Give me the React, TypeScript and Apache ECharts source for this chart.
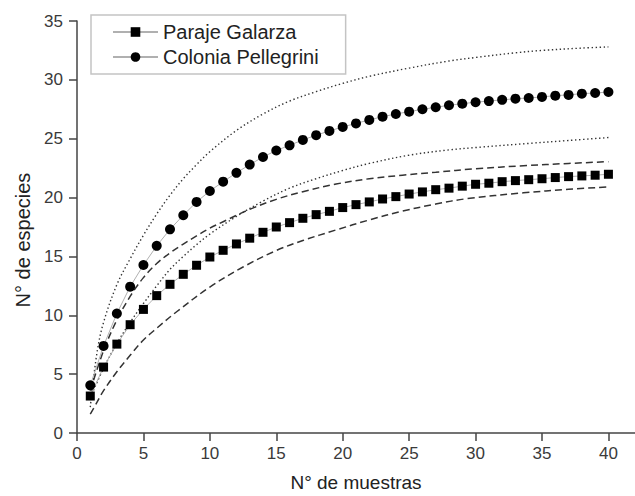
import React, { useEffect, useRef } from "react";
import * as echarts from "echarts";

const samples = Array.from({ length: 40 }, (_, i) => i + 1);

const galarzaValues = [
  3.14, 5.6, 7.55, 9.2, 10.5, 11.67, 12.63, 13.48, 14.25, 14.95,
  15.52, 16.06, 16.55, 17.05, 17.5, 17.87, 18.24, 18.55, 18.83, 19.15,
  19.4, 19.63, 19.88, 20.08, 20.3, 20.48, 20.67, 20.8, 20.97, 21.13,
  21.22, 21.35, 21.44, 21.52, 21.6, 21.7, 21.78, 21.84, 21.9, 21.98,
];

const pellegriniValues = [
  4.05, 7.4, 10.15, 12.43, 14.27, 15.9, 17.3, 18.5, 19.63, 20.56,
  21.35, 22.1, 22.8, 23.45, 24.0, 24.44, 24.9, 25.3, 25.66, 26.0,
  26.3, 26.6, 26.87, 27.1, 27.3, 27.5, 27.67, 27.84, 27.98, 28.1,
  28.2, 28.3, 28.4, 28.46, 28.55, 28.66, 28.72, 28.83, 28.88, 28.97,
];

const pellegriniUpperX = [1, 1.5, 2, 3, 4, 5, 6, 7, 8, 9, 10, 12, 14, 16, 18, 20, 22, 25, 28, 30, 33, 35, 38, 40];
const pellegriniUpperY = [2.2, 6.8, 9.4, 12.6, 14.8, 16.8, 18.6, 20.2, 21.6, 22.8, 23.9, 25.7, 27.1, 28.2, 29.0, 29.7, 30.3, 31.0, 31.6, 31.9, 32.3, 32.5, 32.7, 32.8];

const pellegriniLowerX = [1, 2, 3, 4, 5, 6, 7, 8, 9, 10, 12, 14, 16, 18, 20, 22, 25, 28, 30, 34, 37, 40];
const pellegriniLowerY = [3.0, 5.5, 7.6, 9.4, 11.0, 12.5, 13.9, 15.0, 16.0, 16.9, 18.4, 19.7, 20.8, 21.6, 22.3, 22.9, 23.6, 24.05, 24.25, 24.6, 24.85, 25.1];

const galarzaUpperX = [1, 2, 3, 4, 5, 6, 7, 8, 9, 10, 11, 13, 15, 17, 19.5, 22, 24.5, 27, 30, 33.6, 37, 40];
const galarzaUpperY = [3.6, 7.0, 9.6, 11.6, 13.2, 14.4, 15.3, 16.05, 16.75, 17.4, 17.95, 19.0, 19.85, 20.5, 21.15, 21.6, 21.9, 22.15, 22.45, 22.7, 22.9, 23.05];

const galarzaLowerX = [1, 1.5, 2, 3, 4, 5, 6, 7.5, 10, 12.5, 15, 17, 19.5, 22, 24.5, 27, 29.3, 33.6, 37, 40];
const galarzaLowerY = [1.6, 2.6, 3.6, 5.2, 6.6, 7.9, 8.9, 10.3, 12.4, 14.1, 15.5, 16.35, 17.25, 18.1, 18.85, 19.45, 19.9, 20.4, 20.7, 20.9];

const xTicks = [0, 5, 10, 15, 20, 25, 30, 35, 40];

const seriesNames = ["Paraje Galarza", "Colonia Pellegrini"];
const xTitle = "N° de muestras";
const yTitle = "N° de especies";

const FONT = "'Liberation Sans', Arial, Helvetica, sans-serif";

function pairs(xs: number[], ys: number[]) {
  return xs.map((x, i) => [x, ys[i]]);
}

function boundSeries(xs: number[], ys: number[], dash: number[], width: number) {
  return {
    type: "line",
    data: pairs(xs, ys),
    smooth: 0.35,
    showSymbol: false,
    symbol: "none",
    silent: true,
    z: 1,
    lineStyle: { color: "#333", width, type: dash },
  };
}

export default function App() {
  const ref = useRef<HTMLDivElement>(null);

  useEffect(() => {
    if (!ref.current) return;
    const chart = echarts.init(ref.current, null, { renderer: "svg" });
    const axisColor = "#444";
    chart.setOption({
      animation: false,
      backgroundColor: "#fff",
      textStyle: { fontFamily: FONT },
      grid: { left: 77, right: 0, top: 21, bottom: 63, outerBoundsMode: "none", containLabel: false },
      legend: {
        data: seriesNames,
        orient: "vertical",
        left: 91,
        top: 15,
        padding: [7, 27, 7, 21],
        itemWidth: 45,
        itemHeight: 12,
        itemGap: 5,
        borderColor: "#c4c4c4",
        borderWidth: 1.5,
        selectedMode: false,
        textStyle: { fontSize: 20, color: "#222", fontFamily: FONT },
      },
      xAxis: {
        type: "value",
        min: 0,
        max: 42,
        interval: 5,
        name: xTitle,
        nameLocation: "middle",
        nameGap: 40,
        nameTextStyle: { fontSize: 19, color: "#222", fontFamily: FONT },
        splitLine: { show: false },
        axisLine: { show: true, lineStyle: { color: axisColor, width: 1.5 } },
        axisTick: { show: true, length: 8, inside: false, customValues: xTicks, lineStyle: { color: axisColor, width: 1.5 } },
        axisLabel: { fontSize: 17, color: "#3a3a3a", margin: 12, customValues: xTicks, fontFamily: FONT },
      },
      yAxis: {
        type: "value",
        min: 0,
        max: 35,
        interval: 5,
        splitLine: { show: false },
        axisLine: { show: true, lineStyle: { color: axisColor, width: 1.5 } },
        axisTick: { show: true, length: 8, inside: false, lineStyle: { color: axisColor, width: 1.5 } },
        axisLabel: { fontSize: 17, color: "#3a3a3a", margin: 14, fontFamily: FONT },
      },
      graphic: [
        {
          type: "text",
          x: 23,
          y: 240,
          rotation: Math.PI / 2,
          style: {
            text: yTitle,
            fontSize: 20,
            fill: "#222",
            fontFamily: FONT,
            align: "center",
            verticalAlign: "middle",
          },
        },
      ],
      series: [
        boundSeries(pellegriniUpperX, pellegriniUpperY, [1.4, 2.6], 1.4),
        boundSeries(pellegriniLowerX, pellegriniLowerY, [1.4, 2.6], 1.4),
        boundSeries(galarzaUpperX, galarzaUpperY, [7, 4], 1.5),
        boundSeries(galarzaLowerX, galarzaLowerY, [7, 4], 1.5),
        {
          name: seriesNames[0],
          type: "line",
          data: pairs(samples, galarzaValues),
          symbol: "rect",
          symbolSize: 9,
          z: 3,
          itemStyle: { color: "#000" },
          lineStyle: { color: "#b0b0b0", width: 1 },
        },
        {
          name: seriesNames[1],
          type: "line",
          data: pairs(samples, pellegriniValues),
          symbol: "circle",
          symbolSize: 10,
          z: 3,
          itemStyle: { color: "#000" },
          lineStyle: { color: "#b0b0b0", width: 1 },
        },
      ],
    });
    return () => chart.dispose();
  }, []);

  return (
    <div
      ref={ref}
      style={{ position: "absolute", left: 0, top: 0, width: 635, height: 496, background: "#fff" }}
    />
  );
}
